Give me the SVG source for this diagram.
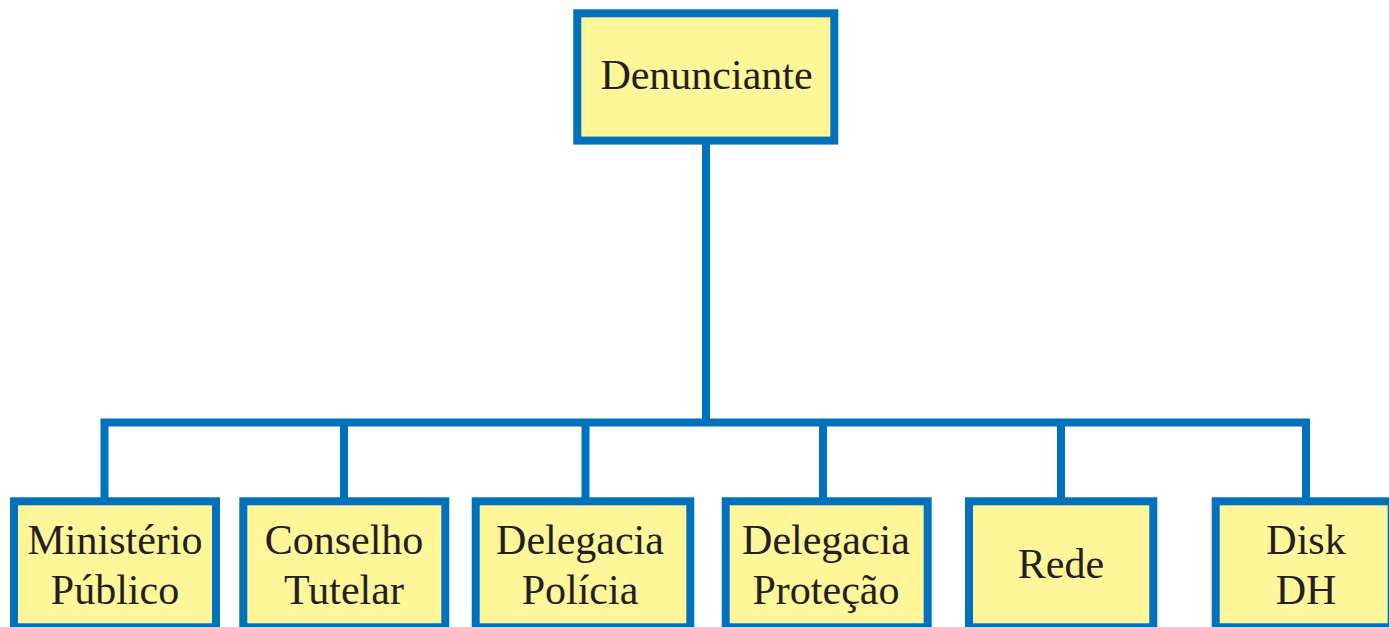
<svg xmlns="http://www.w3.org/2000/svg" width="1389" height="627" viewBox="0 0 1389 627">
<style>
.box{fill:#FFF599;stroke:#0071BC;stroke-width:8}
.con{fill:none;stroke:#0071BC;stroke-width:8;stroke-linejoin:miter}
.t{font-family:"Liberation Serif","Times New Roman",serif;font-size:42px;fill:#231F20;text-anchor:middle}
</style>
<rect width="1389" height="627" fill="#FFFFFF"/>
<g id="connectors">
<path class="con" d="M706,140 V422.5"/>
<path class="con" d="M104.5,498 V422.5 H1306 V498"/>
<path class="con" d="M344,422.5 V498"/>
<path class="con" d="M585.5,422.5 V498"/>
<path class="con" d="M823,422.5 V498"/>
<path class="con" d="M1061,422.5 V498"/>
</g>
<g id="denunciante">
<rect class="box" x="577.3" y="13.3" width="257" height="127.3"/>
<text class="t" x="706.5" y="88.5">Denunciante</text>
</g>
<g id="ministerio-publico">
<rect class="box" x="14" y="501.3" width="202" height="126"/>
<text class="t" x="115" y="553.5">Ministério</text>
<text class="t" x="115" y="603.5">Público</text>
</g>
<g id="conselho-tutelar">
<rect class="box" x="243.3" y="501.3" width="202" height="126"/>
<text class="t" x="344" y="553.5">Conselho</text>
<text class="t" x="344" y="603.5">Tutelar</text>
</g>
<g id="delegacia-policia">
<rect class="box" x="475.7" y="501.3" width="214.6" height="126"/>
<text class="t" x="580" y="553.5">Delegacia</text>
<text class="t" x="580" y="603.5">Polícia</text>
</g>
<g id="delegacia-protecao">
<rect class="box" x="725.7" y="501.3" width="202" height="126"/>
<text class="t" x="826" y="553.5">Delegacia</text>
<text class="t" x="826" y="603.5">Proteção</text>
</g>
<g id="rede">
<rect class="box" x="969" y="501.3" width="184.3" height="126"/>
<text class="t" x="1061" y="578">Rede</text>
</g>
<g id="disk-dh">
<rect class="box" x="1215.7" y="501.3" width="176" height="126"/>
<text class="t" x="1306" y="553.5">Disk</text>
<text class="t" x="1306" y="603.5">DH</text>
</g>
</svg>
